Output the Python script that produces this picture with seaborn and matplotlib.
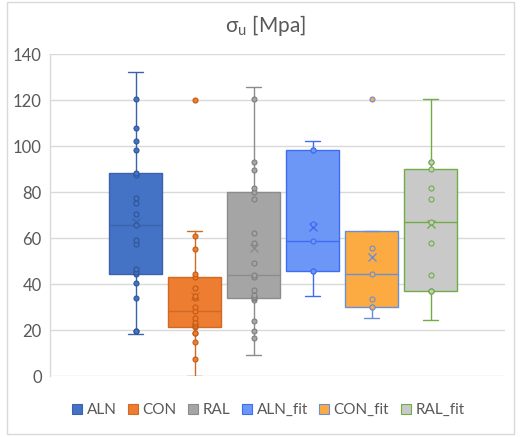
import numpy as np
import pandas as pd
import matplotlib
matplotlib.use('Agg')
import matplotlib.pyplot as plt
from matplotlib.patches import Patch, Rectangle
import seaborn as sns

sns.set_style('white')
plt.rcParams['font.family'] = ['Lato', 'DejaVu Sans']

# values (MPa)
groups = ['ALN', 'CON', 'RAL', 'ALN_fit', 'CON_fit', 'RAL_fit']
aln = [18.5, 19.8, 19.8, 33.9, 40.7, 44.6, 45.3, 46.5, 57.7, 59.1, 66.0,
       70.6, 75.4, 77.7, 87.5, 88.6, 98.3, 102.3, 107.9, 120.6, 132.3]
con = [0.2, 7.7, 14.8, 18.7, 18.7, 21.4, 21.8, 22.8, 23.4, 25.3, 28.5,
       30.1, 34.2, 34.8, 38.5, 43.1, 44.6, 55.5, 61.2, 63.1, 120.3]
ral = [9.2, 16.7, 19.9, 23.9, 33.3, 34.0, 34.6, 35.2, 37.7, 43.0, 44.0,
       49.2, 58.0, 62.3, 77.2, 80.0, 82.0, 89.7, 93.3, 120.7, 125.9]
aln_fit = [35.0, 35.0, 45.6, 45.6, 58.8, 66.1, 98.3, 98.3, 102.4]
con_fit = [25.3, 30.1, 30.1, 33.7, 44.6, 55.8, 63.1, 63.1, 120.4]
ral_fit = [24.6, 36.9, 36.9, 37.3, 44.0, 57.8, 67.3, 77.1, 81.9, 90.2,
           93.2, 93.2, 120.7]

fills = ['#4472c4', '#ed7d31', '#a5a5a5', '#6d97f7', '#fbab41', '#c9c9c9']
lines = ['#3a63ab', '#d06a25', '#8c8c8c', '#3f6cf0', '#6a8fd6', '#70ad47']
dots = ['#2f5597', '#c55a11', '#7f7f7f', '#3f6cf0', '#6a8fd6', '#70ad47']

values = [aln, con, ral, aln_fit, con_fit, ral_fit]
df = pd.concat([pd.DataFrame({'group': g, 'value': v}) for g, v in zip(groups, values)],
               ignore_index=True)


def inner_points(v):
    # Excel does not draw the points sitting at the whisker ends
    v = np.asarray(v)
    q1, q3 = np.percentile(v, [25, 75])
    lo, hi = q1 - 1.5 * (q3 - q1), q3 + 1.5 * (q3 - q1)
    inside = v[(v >= lo) & (v <= hi)]
    return v[(v != inside.min()) & (v != inside.max())]


fig = plt.figure(figsize=(5.21, 4.37), dpi=100)
ax = fig.add_axes([50 / 521, 1 - 376.3 / 437, 455 / 521, 322 / 437])

for g, f, lc, dc in zip(groups, fills, lines, dots):
    sub = df[df['group'] == g]
    sns.boxplot(data=sub, x='group', y='value', order=groups, ax=ax,
                color=f, linecolor=lc, saturation=1, width=0.9, linewidth=1,
                showfliers=False, showmeans=True, capwidths=0.26,
                meanprops=dict(marker='x', markeredgecolor=lc, markersize=6,
                               markeredgewidth=1))
    pts = pd.DataFrame({'group': g, 'value': inner_points(sub['value'])})
    sns.stripplot(data=pts, x='group', y='value', order=groups, ax=ax,
                  jitter=False, color=f, edgecolor=dc, linewidth=0.8,
                  size=3.6, zorder=3)

ax.set_xlim(-1.45, 6.26)
ax.set_ylim(0, 140)
ax.set_yticks(range(0, 141, 20))
ax.set_xticks([])
ax.set_xlabel('')
ax.set_ylabel('')
ax.yaxis.grid(True, color='#d9d9d9', linewidth=1)
ax.set_axisbelow(True)
ax.tick_params(axis='y', length=0, labelsize=12, labelcolor='#595959', pad=6)
for side in ['top', 'right', 'bottom']:
    ax.spines[side].set_visible(False)
ax.spines['left'].set_color('#d9d9d9')
ax.spines['left'].set_linewidth(1)

fig.text(0.51, 1 - 26 / 437, r'σ$_\mathregular{u}$ [Mpa]', ha='center', va='center',
         fontsize=15, color='#595959')

handles = [Patch(facecolor=f, edgecolor=lc, linewidth=0.8) for f, lc in zip(fills, lines)]
fig.legend(handles, groups, loc='center', bbox_to_anchor=(0.515, 1 - 410 / 437),
           ncol=6, frameon=False, fontsize=11, labelcolor='#595959',
           handlelength=0.65, handleheight=0.65, handletextpad=0.3, columnspacing=0.75)

fig.patches.append(Rectangle((7 / 521, 3 / 437), 507 / 521, 432 / 437,
                             transform=fig.transFigure, fill=False,
                             edgecolor='#d9d9d9', linewidth=1))

fig.savefig('out.png', dpi=100)
